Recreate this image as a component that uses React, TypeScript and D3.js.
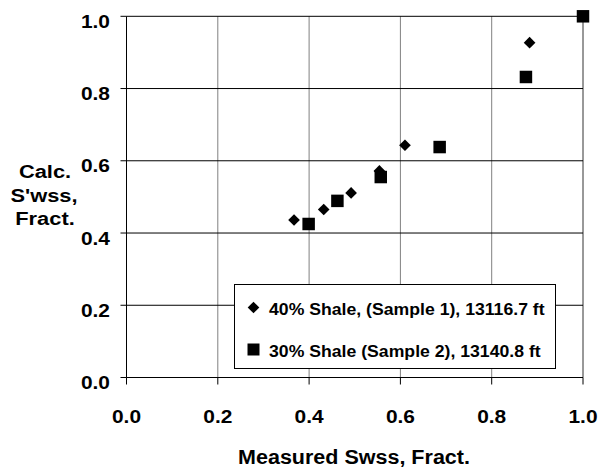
import React from "react";
import * as d3 from "d3";

// Sample 1 (40% shale) and sample 2 (30% shale), measured vs calculated Swss
const shale40X = [0.367, 0.432, 0.492, 0.554, 0.61, 0.883];
const shale40Y = [0.436, 0.465, 0.511, 0.572, 0.643, 0.927];
const shale30X = [0.399, 0.462, 0.557, 0.686, 0.875, 1.0];
const shale30Y = [0.425, 0.489, 0.555, 0.638, 0.832, 1.0];
const ticks = [0, 0.2, 0.4, 0.6, 0.8, 1.0];
const legendLabels = [
  "40% Shale, (Sample 1), 13116.7 ft",
  "30% Shale (Sample 2), 13140.8 ft",
];

const FONT = "'Liberation Sans', Arial, sans-serif";

// text stretched a little wider, like the original
const Label = ({ x, y, size, anchor = "start", sx = 1.1, children }) => (
  <text
    transform={`translate(${x},${y}) scale(${sx},1)`}
    fontSize={size}
    fontWeight="bold"
    fontFamily={FONT}
    textAnchor={anchor}
    fill="#000"
  >
    {children}
  </text>
);

const App = () => {
  const width = 600;
  const height = 469;
  const x = d3.scaleLinear().domain([0, 1]).range([126.5, 583]);
  const y = d3.scaleLinear().domain([0, 1]).range([377.5, 16.3]);

  const diamond = d3.symbol().type(d3.symbolSquare).size(68)();
  const square = d3.symbol().type(d3.symbolSquare).size(156)();
  const legDiamond = d3.symbol().type(d3.symbolSquare).size(68)();
  const legSquare = d3.symbol().type(d3.symbolSquare).size(144)();

  return (
    <svg
      width={width}
      height={height}
      style={{ position: "absolute", left: 0, top: 0, background: "#fff" }}
    >
      {/* vertical grid */}
      {ticks.slice(1).map((t) => (
        <line
          key={"vx" + t}
          x1={x(t)}
          x2={x(t)}
          y1={y(1)}
          y2={y(0)}
          stroke={t === 1 ? "#333" : "#808080"}
          strokeWidth={1}
        />
      ))}
      {/* horizontal grid */}
      {ticks.slice(1).map((t) => (
        <line
          key={"hy" + t}
          x1={x(0)}
          x2={x(1)}
          y1={y(t)}
          y2={y(t)}
          stroke="#000"
          strokeWidth={1}
        />
      ))}
      {/* axes */}
      <line x1={x(0)} x2={x(0)} y1={y(1)} y2={y(0)} stroke="#000" />
      <line x1={x(0)} x2={x(1)} y1={y(0)} y2={y(0)} stroke="#000" />
      {ticks.map((t) => (
        <g key={"t" + t}>
          <line x1={x(0) - 6} x2={x(0)} y1={y(t)} y2={y(t)} stroke="#000" />
          <line x1={x(t)} x2={x(t)} y1={y(0)} y2={y(0) + 7} stroke="#000" />
          <Label x={110} y={y(t) + 11.5} size={19} anchor="end" sx={1.1}>
            {t.toFixed(1)}
          </Label>
          <Label x={x(t)} y={422.5} size={19} anchor="middle" sx={1.1}>
            {t.toFixed(1)}
          </Label>
        </g>
      ))}

      {/* points */}
      {shale40X.map((v, i) => (
        <path
          key={"d" + i}
          d={diamond}
          transform={`translate(${x(v)},${y(shale40Y[i])}) rotate(45)`}
          fill="#000"
        />
      ))}
      {shale30X.map((v, i) => (
        <path
          key={"s" + i}
          d={square}
          transform={`translate(${x(v)},${y(shale30Y[i])})`}
          fill="#000"
        />
      ))}

      {/* legend */}
      <rect x={234.5} y={284.5} width={321} height={84} fill="#fff" stroke="#000" />
      <path d={legDiamond} transform="translate(253.5,307.5) rotate(45)" fill="#000" />
      <path d={legSquare} transform="translate(253.5,349.5)" fill="#000" />
      <Label x={269} y={315} size={16.5} sx={1.07}>
        {legendLabels[0]}
      </Label>
      <Label x={269} y={356.5} size={16.5} sx={1.07}>
        {legendLabels[1]}
      </Label>

      {/* axis titles */}
      <Label x={354} y={464} size={20.5} anchor="middle" sx={1.05}>
        Measured Swss, Fract.
      </Label>
      <Label x={45} y={178} size={19} anchor="middle" sx={1.15}>
        Calc.
      </Label>
      <Label x={44} y={202} size={19} anchor="middle" sx={1.15}>
        S'wss,
      </Label>
      <Label x={45} y={225} size={19} anchor="middle" sx={1.15}>
        Fract.
      </Label>
    </svg>
  );
};

export default App;
